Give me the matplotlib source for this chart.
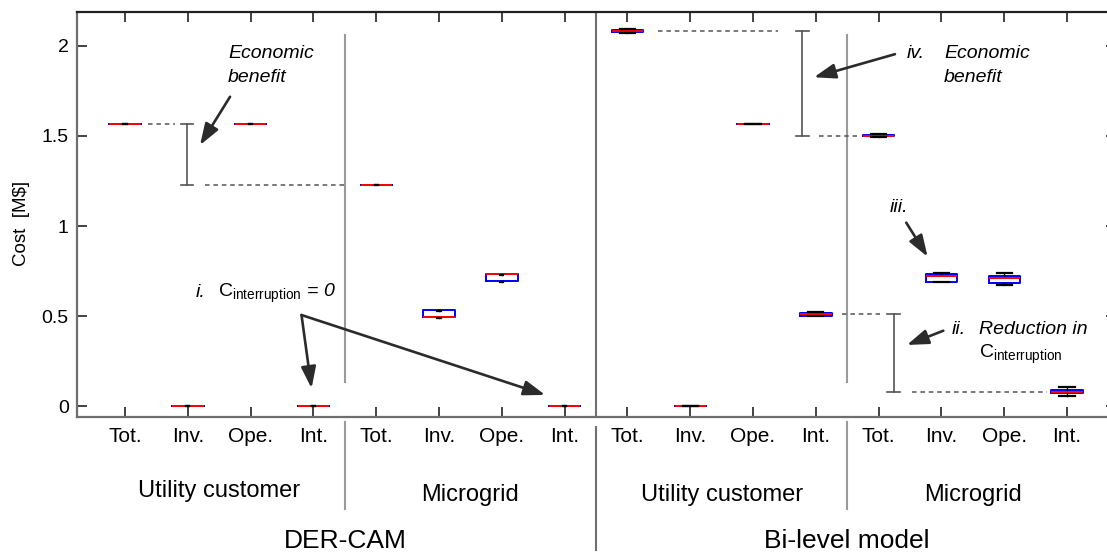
import numpy as np
import matplotlib
matplotlib.use("Agg")
import matplotlib.pyplot as plt
from matplotlib import transforms
from matplotlib.lines import Line2D

plt.rcParams['font.family'] = ['Liberation Sans', 'DejaVu Sans']
plt.rcParams['mathtext.fontset'] = 'custom'
plt.rcParams['mathtext.rm'] = 'Liberation Sans'
plt.rcParams['mathtext.it'] = 'Liberation Sans:italic'
plt.rcParams['mathtext.bf'] = 'Liberation Sans:bold'

# ---------------------------------------------------------------- data
models = ["DER-CAM", "Bi-level model"]
groups = ["Utility customer", "Microgrid"]
cost_items = ["Tot.", "Inv.", "Ope.", "Int."]

# 16 boxes: DER-CAM (utility, microgrid) then Bi-level (utility, microgrid),
# each with Tot./Inv./Ope./Int. costs in M$
whisker_low = [1.564, 0.0, 1.564, 0.0,   1.226, 0.490, 0.688, 0.0,
               2.070, 0.0, 1.566, 0.499, 1.493, 0.688, 0.674, 0.060]
quartile_1 = [1.564, 0.0, 1.564, 0.0,   1.226, 0.494, 0.694, 0.0,
              2.078, 0.0, 1.566, 0.503, 1.497, 0.692, 0.683, 0.073]
median = [1.564, 0.0, 1.564, 0.0,   1.226, 0.494, 0.734, 0.0,
          2.083, 0.0, 1.566, 0.511, 1.500, 0.722, 0.711, 0.082]
quartile_3 = [1.564, 0.0, 1.564, 0.0,   1.226, 0.533, 0.734, 0.0,
              2.086, 0.0, 1.566, 0.517, 1.507, 0.736, 0.725, 0.093]
whisker_high = [1.564, 0.0, 1.564, 0.0,   1.226, 0.531, 0.729, 0.0,
                2.090, 0.0, 1.566, 0.522, 1.511, 0.742, 0.742, 0.108]

y_ticks = [0, 0.5, 1, 1.5, 2]
y_tick_labels = ["0", "0.5", "1", "1.5", "2"]

# ---------------------------------------------------------------- figure
W, H = 1107, 554
fig = plt.figure(figsize=(W / 100, H / 100), dpi=100)
ax = fig.add_axes([77 / W, (H - 417.3) / H, 1039 / W, 405.6 / H])

n = len(median)
positions = np.arange(1, n + 1)
stats = [dict(whislo=whisker_low[i], q1=quartile_1[i], med=median[i],
              q3=quartile_3[i], whishi=whisker_high[i], fliers=[])
         for i in range(n)]
cap_widths = [0.05] * (n // 2) + [0.24] * (n // 2)

ax.bxp(stats, positions=positions, widths=0.5, capwidths=cap_widths,
       manage_ticks=False, showfliers=False,
       boxprops=dict(color='blue', lw=1.4),
       medianprops=dict(color='red', lw=1.4, zorder=3),
       whiskerprops=dict(color='black', lw=1.0),
       capprops=dict(color='black', lw=1.6, zorder=4))

ax.set_xlim(0.235, 16.78)
ax.set_ylim(-0.06, 2.1885)
ax.set_xticks(positions, labels=cost_items * 4)
ax.set_yticks(y_ticks, labels=y_tick_labels)
ax.tick_params(direction='in', length=7.2, width=1.2, top=True, right=True,
               color='#222222')
ax.tick_params(axis='x', labelsize=15, pad=7)
ax.tick_params(axis='y', labelsize=14, pad=6)
for side, sp in ax.spines.items():
    sp.set_linewidth(1.6)
    sp.set_color('#222222' if side in ('top', 'right') else '#6e6e6e')

fig.text(22 / W, 1 - 223 / H, "Cost  [M$]", rotation=90, ha='center',
         va='center', fontsize=13.5)

# ---------------------------------------------------------------- separators
ax.axvline(8.5, color='#707070', lw=1.5, zorder=1)
for xs in (4.5, 12.5):
    ax.plot([xs, xs], [0.134, 2.06], color='#9a9a9a', lw=1.5, zorder=1)

below = transforms.blended_transform_factory(ax.transData, fig.transFigure)
ax.add_line(Line2D([8.5, 8.5], [1 - 426.7 / H, 1 - 550 / H], transform=below,
                   color='#707070', lw=1.5, clip_on=False))
for xs in (4.5, 12.5):
    ax.add_line(Line2D([xs, xs], [1 - 421.7 / H, 1 - 509 / H], transform=below,
                       color='#9a9a9a', lw=1.5, clip_on=False))

# group and model labels under the axis
group_x = [2.5, 6.5, 10.5, 14.5]
group_base = [497.5, 501, 501, 501]
for gx, gy, name in zip(group_x, group_base, groups * 2):
    fig.text(gx, 1 - gy / H, name, transform=below, ha='center',
             va='baseline', fontsize=17)
for mx, name in zip([4.5, 12.5], models):
    fig.text(mx, 1 - 548.5 / H, name, transform=below, ha='center',
             va='baseline', fontsize=19)

# ---------------------------------------------------------------- annotations
note_fs = 14
guide = dict(color='#555555', lw=1.1, ls=(0, (3, 2.5)))
bracket = dict(color='#555555', lw=1.2)


def draw_bracket(x, y_top, y_bot, half=0.1):
    ax.plot([x, x], [y_bot, y_top], **bracket)
    ax.plot([x - half, x + half], [y_top, y_top], **bracket)
    ax.plot([x - half, x + half], [y_bot, y_bot], **bracket)


arrow_kw = dict(arrowstyle='-|>,head_length=1.3,head_width=0.45',
                color='#2b2b2b', lw=1.9, shrinkA=0, shrinkB=0,
                mutation_scale=10)


def arrow(start, end):
    ax.annotate('', xy=end, xytext=start, arrowprops=arrow_kw)


def note(x, y, s, italic=True):
    ax.text(x, y, s, style='italic' if italic else 'normal',
            fontsize=note_fs, va='baseline')


# DER-CAM economic benefit: utility total vs microgrid total
der_util_tot, der_mg_tot = median[0], median[4]
ax.plot([1.37, 1.80], [der_util_tot] * 2, **guide)
ax.plot([2.27, 4.50], [der_mg_tot] * 2, **guide)
draw_bracket(1.99, der_util_tot, der_mg_tot)
note(2.64, 1.930, "Economic")
note(2.64, 1.800, "benefit")
arrow((2.672, 1.717), (2.194, 1.449))

# DER-CAM interruption cost is zero
note(2.12, 0.605, "i.")
note(2.48, 0.605, r"$\mathrm{C}_{\mathrm{interruption}}$ = 0")
arrow((3.81, 0.507), (3.97, 0.101))
arrow((3.81, 0.507), (7.69, 0.064))

# Bi-level economic benefit
bl_util_tot, bl_mg_tot = median[8], median[12]
ax.plot([9.49, 11.40], [bl_util_tot] * 2, **guide)
ax.plot([12.05, 12.66], [bl_mg_tot] * 2, **guide)
draw_bracket(11.785, bl_util_tot, bl_mg_tot)
note(13.45, 1.930, "iv.")
note(14.04, 1.930, "Economic")
note(14.04, 1.800, "benefit")
arrow((13.26, 1.953), (11.97, 1.825))

# Bi-level reduction in interruption cost
bl_util_int, bl_mg_int = median[11], median[15]
ax.plot([12.42, 13.02], [bl_util_int] * 2, **guide)
ax.plot([13.53, 15.68], [bl_mg_int] * 2, **guide)
draw_bracket(13.24, bl_util_int, bl_mg_int)
note(14.16, 0.402, "ii.")
note(14.60, 0.402, "Reduction in")
note(14.60, 0.267, r"$\mathrm{C}_{\mathrm{interruption}}$", italic=False)
arrow((14.03, 0.420), (13.45, 0.341))

# microgrid investment spread
note(13.18, 1.080, "iii.")
arrow((13.44, 1.019), (13.78, 0.830))

fig.savefig("out.png", dpi=100)
